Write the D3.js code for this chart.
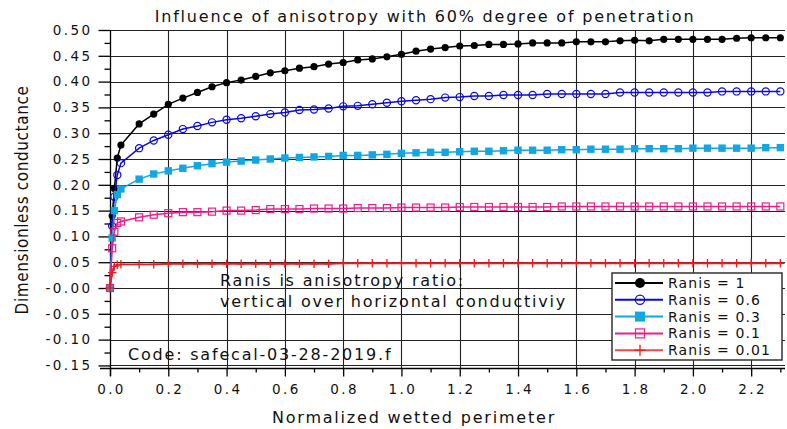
<!DOCTYPE html>
<html><head><meta charset="utf-8">
<script src="https://cdn.jsdelivr.net/npm/d3@7"></script>
<style>
html,body{margin:0;padding:0;background:#fff;}
svg text{font-family:"DejaVu Sans",Verdana,sans-serif;fill:#111;}
</style></head>
<body><svg id="chart" width="787" height="429"></svg>
<script>
const xValues = [0, 0.0075, 0.015, 0.025, 0.0375,
  0.10,0.15,0.20,0.25,0.30,0.35,0.40,0.45,0.50,0.55,0.60,0.65,0.70,0.75,0.80,0.85,0.90,0.95,1.00,
  1.05,1.10,1.15,1.20,1.25,1.30,1.35,1.40,1.45,1.50,1.55,1.60,1.65,1.70,1.75,1.80,1.85,1.90,1.95,2.00,
  2.05,2.10,2.15,2.20,2.25,2.30];
const ranis1 = [0, 0.140, 0.193, 0.252, 0.277,
  0.318,0.337,0.356,0.368,0.379,0.390,0.398,0.403,0.410,0.417,0.421,0.426,0.429,0.434,0.437,0.442,0.444,0.448,0.453,
  0.459,0.463,0.466,0.469,0.470,0.472,0.472,0.473,0.475,0.475,0.475,0.477,0.477,0.477,0.479,0.480,0.479,0.482,0.482,0.482,
  0.482,0.482,0.484,0.485,0.485,0.485];
const ranis06 = [0, 0.120, 0.177, 0.219, 0.242,
  0.271,0.286,0.297,0.308,0.314,0.321,0.326,0.329,0.333,0.337,0.340,0.345,0.346,0.348,0.352,0.353,0.356,0.359,0.362,
  0.364,0.366,0.369,0.370,0.372,0.372,0.374,0.374,0.374,0.376,0.376,0.376,0.376,0.376,0.379,0.379,0.379,0.379,0.379,0.379,
  0.379,0.381,0.381,0.381,0.381,0.381];
const ranis03 = [0, 0.097, 0.150, 0.181, 0.192,
  0.211,0.221,0.227,0.232,0.237,0.241,0.244,0.246,0.248,0.250,0.252,0.253,0.254,0.255,0.257,0.257,0.258,0.259,0.261,
  0.262,0.263,0.263,0.264,0.265,0.265,0.266,0.267,0.267,0.267,0.268,0.268,0.269,0.269,0.269,0.270,0.270,0.270,0.270,0.271,
  0.271,0.271,0.271,0.271,0.272,0.272];
const ranis01 = [0, 0.077, 0.109, 0.126, 0.129,
  0.137,0.142,0.145,0.147,0.147,0.148,0.150,0.150,0.151,0.153,0.153,0.153,0.154,0.154,0.154,0.155,0.155,0.155,0.156,
  0.156,0.156,0.156,0.157,0.157,0.157,0.157,0.157,0.157,0.157,0.158,0.158,0.158,0.158,0.158,0.158,0.158,0.158,0.158,0.158,
  0.158,0.158,0.158,0.158,0.158,0.158];
const ranis001 = [0, 0.030, 0.042, 0.045, 0.046,
  0.046,0.046,0.047,0.047,0.047,0.047,0.047,0.047,0.047,0.047,0.047,0.047,0.047,0.047,0.048,0.048,0.048,0.048,0.048,
  0.048,0.048,0.048,0.048,0.048,0.048,0.048,0.048,0.048,0.048,0.048,0.048,0.048,0.048,0.048,0.048,0.048,0.048,0.048,0.048,
  0.048,0.048,0.048,0.048,0.048,0.048];
const seriesNames = ["Ranis = 1","Ranis = 0.6","Ranis = 0.3","Ranis = 0.1","Ranis = 0.01"];
const xTicks = [0,0.2,0.4,0.6,0.8,1.0,1.2,1.4,1.6,1.8,2.0,2.2];
const xTickLabels = ["0.0","0.2","0.4","0.6","0.8","1.0","1.2","1.4","1.6","1.8","2.0","2.2"];
const xMinorTicks = [0.1,0.3,0.5,0.7,0.9,1.1,1.3,1.5,1.7,1.9,2.1,2.3];
const yTicks = [0.50,0.45,0.40,0.35,0.30,0.25,0.20,0.15,0.10,0.05,0.00,-0.05,-0.10,-0.15];
const yTickLabels = ["0.50","0.45","0.40","0.35","0.30","0.25","0.20","0.15","0.10","0.05","-0.00","-0.05","-0.10","-0.15"];
const yMinorTicks = [0.475,0.425,0.375,0.325,0.275,0.225,0.175,0.125,0.075,0.025,-0.025,-0.075,-0.125];
const titleText = "Influence of anisotropy with 60% degree of penetration";
const xLabel = "Normalized wetted perimeter";
const yLabel = "Dimensionless conductance";
const noteLines = ["Ranis is anisotropy ratio:", "vertical over horizontal conductiviy"];
const codeText = "Code: safecal-03-28-2019.f";

const svg = d3.select("#chart");
const L = 110, R = 785, T = 30, B = 368;
const x = d3.scaleLinear().domain([0, 2.316]).range([L, R]);
const y = d3.scaleLinear().domain([-0.155, 0.5]).range([B, T]);

const styles = [
  {color:"#000000", lineColor:"#000000", marker:"dot"},
  {color:"#0a0ad8", lineColor:"#0a0ad8", marker:"circle"},
  {color:"#12a6e2", lineColor:"#12a6e2", marker:"square"},
  {color:"#e8208a", lineColor:"#e8208a", marker:"osquare"},
  {color:"#e61e1e", lineColor:"#e61e1e", marker:"plus"}
];
const allSeries = [ranis1, ranis06, ranis03, ranis01, ranis001];

// grid
const grid = svg.append("g");
grid.selectAll("line.h").data(yTicks).join("line")
  .attr("x1", L).attr("x2", R).attr("y1", d=>Math.round(y(d))+0.5).attr("y2", d=>Math.round(y(d))+0.5)
  .attr("stroke", "#222").attr("stroke-width", 1.1);
grid.selectAll("line.v").data(xTicks.filter(d=>d>0)).join("line")
  .attr("y1", T).attr("y2", B).attr("x1", d=>Math.round(x(d))+0.5).attr("x2", d=>Math.round(x(d))+0.5)
  .attr("stroke", "#222").attr("stroke-width", 1.1);

// axes
const yAxis = d3.axisLeft(y).tickValues(yTicks).tickSize(12).tickFormat((d,i)=>yTickLabels[i]).tickPadding(6);
const gy = svg.append("g").attr("transform", `translate(${L+0.5},0)`).call(yAxis);
gy.select(".domain").attr("d", `M0,${T}V${B+8}`).attr("stroke","#000").attr("stroke-width",1.3);
gy.selectAll(".tick line").attr("stroke","#000").attr("stroke-width",1.3);
gy.selectAll(".tick text").attr("font-size", 13.5).style("letter-spacing","2.4px").attr("fill","#111");
const yMinor = d3.axisLeft(y).tickValues(yMinorTicks).tickSize(6).tickFormat("");
const gym = svg.append("g").attr("transform", `translate(${L+0.5},0)`).call(yMinor);
gym.select(".domain").remove();
gym.selectAll(".tick line").attr("stroke","#000").attr("stroke-width",1.3);

const xAxis = d3.axisBottom(x).tickValues(xTicks).tickSize(8).tickFormat((d,i)=>xTickLabels[i]).tickPadding(8);
const gx = svg.append("g").attr("transform", `translate(0,${B+0.5})`).call(xAxis);
gx.select(".domain").attr("d", `M${L-10},0H${R}`).attr("stroke","#000").attr("stroke-width",1.3);
gx.selectAll(".tick line").attr("stroke","#000").attr("stroke-width",1.3);
gx.selectAll(".tick text").attr("font-size", 13.5).style("letter-spacing","2.4px").attr("fill","#111").attr("dx", 1);
const xMinor = d3.axisBottom(x).tickValues(xMinorTicks).tickSize(4).tickFormat("");
const gxm = svg.append("g").attr("transform", `translate(0,${B+0.5})`).call(xMinor);
gxm.select(".domain").remove();
gxm.selectAll(".tick line").attr("stroke","#000").attr("stroke-width",1.3);

// series
const line = d3.line().x(d=>x(d[0])).y(d=>y(d[1]));
function drawMarker(g, type, color, cx, cy, s, center) {
  if (type === "dot") g.append("circle").attr("cx",cx).attr("cy",cy).attr("r",s).attr("fill",color);
  else if (type === "circle") {
    g.append("circle").attr("cx",cx).attr("cy",cy).attr("r",s).attr("fill","none").attr("stroke",color).attr("stroke-width",1.2);
    if (center) g.append("circle").attr("cx",cx).attr("cy",cy).attr("r",1).attr("fill",color);
  }
  else if (type === "square") g.append("rect").attr("x",cx-s).attr("y",cy-s).attr("width",2*s).attr("height",2*s).attr("fill",color);
  else if (type === "osquare") {
    g.append("rect").attr("x",cx-s).attr("y",cy-s).attr("width",2*s).attr("height",2*s).attr("fill","none").attr("stroke",color).attr("stroke-width",1.2);
    if (center) g.append("circle").attr("cx",cx).attr("cy",cy).attr("r",0.9).attr("fill",color);
  }
  else if (type === "plus") {
    g.append("path").attr("d",`M${cx-s},${cy}H${cx+s}M${cx},${cy-s}V${cy+s}`).attr("stroke",color).attr("stroke-width",1.3);
  }
}
const sizes = {dot:3.6, circle:3.6, square:3.7, osquare:3.5, plus:4.2};
allSeries.forEach((vals, k) => {
  const st = styles[k];
  const pts = xValues.map((xv,i)=>[xv, vals[i]]);
  const g = svg.append("g");
  g.append("path").datum(pts).attr("d", line).attr("fill","none")
    .attr("stroke", st.lineColor).attr("stroke-width", k===4 ? 1.8 : 1.5);
  pts.forEach(p => drawMarker(g, st.marker, st.color, x(p[0]), y(p[1]), sizes[st.marker], false));
});

// annotations
svg.append("text").attr("x", 425).attr("y", 21.5).attr("text-anchor","middle")
  .attr("font-size", 16).style("letter-spacing","1.8px").text(titleText);
svg.append("text").attr("x", 414).attr("y", 423).attr("text-anchor","middle")
  .attr("font-size", 16).style("letter-spacing","1.8px").text(xLabel);
svg.append("text").attr("transform","translate(28,200) rotate(-90)").attr("text-anchor","middle")
  .attr("font-size", 17).style("font-family","'DejaVu Sans Condensed','DejaVu Sans'").style("font-stretch","condensed")
  .style("letter-spacing","0.6px").text(yLabel);
noteLines.forEach((t,i)=>{
  svg.append("text").attr("x", 220).attr("y", 286 + i*20.5).attr("font-size", 16)
    .style("letter-spacing","1.8px").text(t);
});
svg.append("text").attr("x", 128).attr("y", 360).attr("font-size", 16)
  .style("letter-spacing","1.8px").text(codeText);

// legend
const lg = svg.append("g");
lg.append("rect").attr("x", 612).attr("y", 273).attr("width", 170).attr("height", 87)
  .attr("fill","#fff").attr("stroke","#333").attr("stroke-width",1.5);
seriesNames.forEach((name,k)=>{
  const st = styles[k];
  const cy = 283 + k*16.8;
  lg.append("line").attr("x1",615).attr("x2",663).attr("y1",cy).attr("y2",cy)
    .attr("stroke", st.lineColor).attr("stroke-width",2).attr("stroke-opacity", k===4?0.8:1);
  const ls = {dot:5, circle:4.6, square:5, osquare:4.5, plus:5.5};
  drawMarker(lg, st.marker, st.color, 640, cy, ls[st.marker], true);
  lg.append("text").attr("x",668).attr("y",cy+5).attr("font-size",14).style("letter-spacing","1.1px").text(name);
});
</script></body></html>
